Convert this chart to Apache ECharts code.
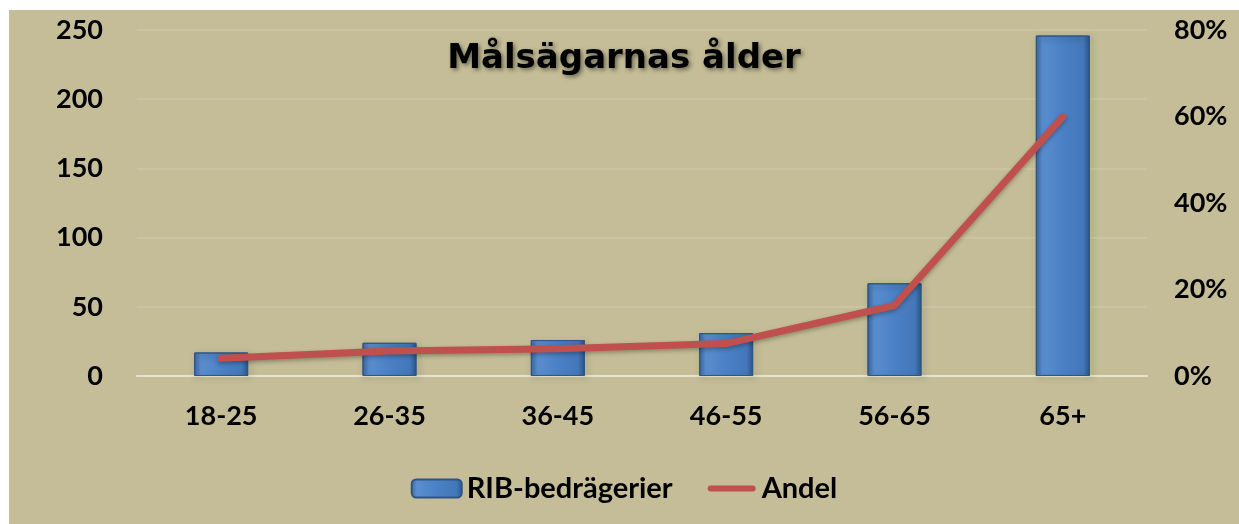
<!DOCTYPE html>
<html>
<head>
<meta charset="utf-8">
<script src="https://cdn.jsdelivr.net/npm/echarts@6/dist/echarts.min.js"></script>
<style>
  html, body { margin: 0; padding: 0; background: #ffffff; }
  #chart { position: absolute; left: 9px; top: 10px; width: 1230px; height: 514px; background: #C4BD97; }
</style>
</head>
<body>
<div id="chart"></div>
<script>
// data
const categories = ['18-25', '26-35', '36-45', '46-55', '56-65', '65+'];
const ribValues = [17, 24, 26, 31, 67, 246];
const andelValues = [0.041, 0.058, 0.063, 0.075, 0.163, 0.599];
const leftTicks = [0, 50, 250];
const rightTicks = [0, 0.2, 0.8];

const labelFont = { fontFamily: 'Lato', fontWeight: 'bold', fontSize: 27, color: '#000' };

// thin rounded stroke for the line legend, padded to a 50x18 box
const lineIcon = 'path://M0,0L0.01,0M4,6L46,6A3,3 0 0 1 46,12L4,12A3,3 0 0 1 4,6ZM50,18L49.99,18';

let chart = echarts.init(document.getElementById('chart'));
let option = {
    title: {
        text: 'Målsägarnas ålder',
        left: 'center',
        top: 27,
        textStyle: {
            fontFamily: 'DejaVu Sans',
            fontWeight: 'bold',
            fontSize: 34,
            color: '#000',
            textShadowColor: 'rgba(0,0,0,0.45)',
            textShadowBlur: 4,
            textShadowOffsetX: 2,
            textShadowOffsetY: 2
        }
    },
    legend: {
        top: 459,
        left: 'center',
        itemWidth: 50,
        itemHeight: 18,
        itemGap: 34,
        textStyle: { fontFamily: 'Lato', fontWeight: 'bold', fontSize: 29, color: '#000' },
        data: [
            { name: 'RIB-bedrägerier' },
            { name: 'Andel', icon: lineIcon, itemStyle: { color: '#C0504D', borderWidth: 0 } }
        ]
    },
    grid: { left: 128, right: 92, top: 20, bottom: 148 },
    xAxis: {
        type: 'category',
        data: categories,
        axisTick: { show: false },
        axisLine: { lineStyle: { color: '#E8E3CF', width: 2 } },
        axisLabel: Object.assign({ margin: 27 }, labelFont)
    },
    yAxis: [
        {
            type: 'value',
            min: leftTicks[0],
            max: leftTicks[2],
            interval: leftTicks[1],
            axisLine: { show: false },
            axisTick: { show: false },
            splitLine: { lineStyle: { color: '#CEC7A6', width: 1.5 } },
            axisLabel: Object.assign({ margin: 34 }, labelFont)
        },
        {
            type: 'value',
            min: rightTicks[0],
            max: rightTicks[2],
            interval: rightTicks[1],
            axisLine: { show: false },
            axisTick: { show: false },
            splitLine: { show: false },
            axisLabel: Object.assign({
                margin: 27,
                formatter: v => Math.round(v * 100) + '%'
            }, labelFont)
        }
    ],
    series: [
        {
            name: 'RIB-bedrägerier',
            type: 'bar',
            data: ribValues,
            barWidth: 54,
            itemStyle: {
                color: new echarts.graphic.LinearGradient(0, 0, 1, 0, [
                    { offset: 0, color: '#3C6AA6' },
                    { offset: 0.12, color: '#5A8ECF' },
                    { offset: 0.5, color: '#4A80C5' },
                    { offset: 0.88, color: '#4477B9' },
                    { offset: 1, color: '#2C578C' }
                ]),
                borderColor: '#2E5585',
                borderWidth: 1,
                shadowColor: 'rgba(0,0,0,0.35)',
                shadowBlur: 6,
                shadowOffsetX: 2,
                shadowOffsetY: 2
            }
        },
        {
            name: 'Andel',
            type: 'line',
            yAxisIndex: 1,
            data: andelValues,
            smooth: false,
            symbol: 'none',
            lineStyle: {
                color: '#C0504D',
                width: 7,
                cap: 'round',
                join: 'round',
                shadowColor: 'rgba(0,0,0,0.3)',
                shadowBlur: 4,
                shadowOffsetY: 2
            },
            itemStyle: { color: '#C0504D' }
        }
    ]
};
chart.setOption(option);
</script>
</body>
</html>
